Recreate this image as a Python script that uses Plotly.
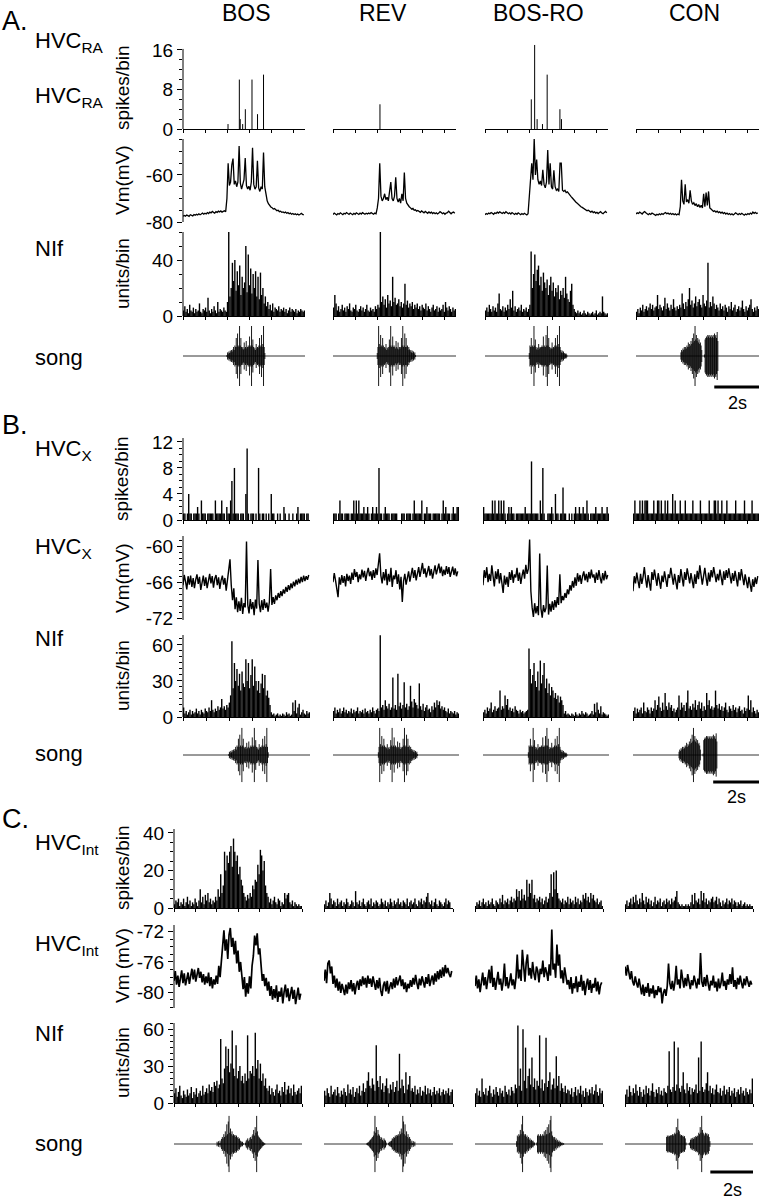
import plotly.graph_objects as go

W, H = 760, 1199
FONT = "Liberation Sans, Arial, sans-serif"
INK = "#000000"

stimuli = ["BOS", "REV", "BOS-RO", "CON"]

# ---------------- Panel A : HVC_RA ----------------
A_DT = 0.055
# sparse spike histograms (time s, spikes/bin)
a_spk_bos_t = [2.03, 2.54, 2.58, 2.69, 2.81, 3.11, 3.36, 3.63]
a_spk_bos_h = [1, 10, 2, 1, 4, 10, 3, 11]
a_spk_rev_t = [2.10]
a_spk_rev_h = [5]
a_spk_ro_t = [2.07, 2.22, 2.33, 2.57, 2.78, 3.35, 3.42]
a_spk_ro_h = [6, 17, 2, 1, 11, 4, 2]
a_spk_con_t = []
a_spk_con_h = []

a_vm_bos = [-77.6,-77.2,-77.5,-77.0,-77.3,-77.6,-76.9,-77.2,-77.4,-76.8,-77.1,-76.7,-77.0,-76.5,-76.9,-76.6,-76.2,-76.7,-76.3,-76.6,
            -76.0,-76.4,-75.8,-76.1,-75.5,-75.9,-76.2,-75.6,-75.9,-75.4,-75.7,-75.3,-75.8,-75.5,-75.2,-75.6,
            -70.0,-55.0,-64.5,-63.0,-55.7,-53.0,-64.0,-62.5,-65.0,-63.0,-47.7,-63.5,-66.0,-64.0,-62.0,-52.8,-64.5,-66.0,-64.8,-66.5,
            -63.0,-48.4,-64.0,-66.0,-65.0,-54.0,-65.5,-67.0,-65.0,-66.0,-50.5,-65.0,
            -69.0,-71.0,-72.2,-73.0,-73.6,-73.9,-74.5,-74.3,-74.9,-75.2,-75.0,-75.6,-75.4,-75.9,-75.7,-76.1,-75.8,-76.3,-76.0,-76.5,
            -76.2,-76.7,-76.4,-76.8,-76.5,-76.9,-76.6,-77.0,-76.7,-76.3,-76.8,-77.0]
a_vm_rev = [-76.8,-76.2,-76.6,-77.0,-76.4,-76.7,-76.1,-76.5,-76.9,-76.3,-76.6,-76.0,-76.4,-76.8,-76.2,-76.5,-76.9,-76.3,-76.7,-76.1,
            -76.5,-76.8,-76.2,-76.6,-76.0,-76.4,-76.7,-76.3,-76.6,-76.2,-76.5,-76.0,-76.4,-76.7,-76.2,-76.5,
            -74.0,-70.0,-55.0,-69.0,-71.0,-70.0,-68.0,-70.5,-69.5,-71.0,-67.0,-63.0,-70.0,-71.0,-69.0,-61.0,-70.0,-71.5,-70.0,-72.0,
            -68.0,-71.0,-59.0,-70.0,-72.0,-73.0,-73.5,-74.0,-74.5,-74.2,-75.0,-74.8,
            -75.4,-75.1,-75.6,-75.9,-75.3,-75.8,-76.1,-75.5,-75.9,-76.3,-75.7,-76.2,-75.8,-76.4,-76.0,-76.5,-76.1,-76.6,-76.2,-75.6,
            -76.0,-76.5,-76.1,-76.7,-76.2,-76.0,-75.4,-76.1,-76.5,-76.0,-75.8,-76.3]
a_vm_ro = [-76.9,-76.4,-76.7,-76.2,-76.5,-76.0,-76.3,-76.7,-76.1,-76.4,-75.8,-76.2,-75.7,-76.0,-76.4,-75.9,-76.3,-75.6,-76.0,-76.5,
           -76.1,-76.6,-76.0,-76.4,-76.8,-76.3,-76.7,-76.1,-76.5,-76.9,-76.4,-76.8,-76.3,-76.6,-77.0,-76.5,
           -70.0,-63.0,-55.0,-62.0,-44.5,-60.0,-53.4,-62.0,-64.0,-62.5,-64.5,-57.8,-64.0,-65.5,-63.0,-49.4,-64.0,-55.0,-65.0,-66.0,
           -58.0,-65.0,-66.5,-66.0,-67.0,-55.0,-55.0,-66.5,-67.0,-66.5,-67.5,-67.2,
           -68.0,-68.5,-69.2,-69.8,-70.5,-71.0,-71.6,-72.0,-72.6,-73.0,-73.5,-73.8,-74.2,-74.5,-74.8,-75.2,-75.0,-75.5,-75.8,-75.4,
           -76.0,-75.7,-76.2,-75.9,-76.4,-76.0,-75.6,-76.2,-76.5,-75.9,-75.5,-76.1]
a_vm_con = [-76.6,-76.1,-76.4,-75.8,-76.2,-76.6,-76.0,-75.6,-76.1,-76.5,-76.9,-76.4,-76.8,-76.2,-76.6,-76.9,-77.2,-76.7,-77.0,-76.5,
            -76.9,-76.4,-76.8,-76.3,-76.0,-76.5,-76.2,-76.7,-76.3,-76.8,-76.4,-76.9,-76.5,-77.0,-76.6,-76.9,
            -73.5,-62.0,-71.0,-72.5,-64.0,-71.5,-70.5,-72.0,-66.5,-71.0,-72.5,-71.8,-73.0,-72.2,-73.5,-72.6,-73.8,-72.9,-74.0,-68.0,
            -73.5,-67.5,-73.0,-67.0,-74.0,-74.5,-75.0,-75.5,-75.2,-75.8,-75.4,-76.0,
            -75.7,-76.2,-75.8,-76.4,-76.0,-76.6,-76.2,-76.8,-76.4,-76.9,-76.5,-77.0,-76.6,-76.1,-76.5,-76.9,-76.4,-76.8,-76.3,-76.7,
            -77.1,-76.6,-76.9,-76.4,-76.8,-76.2,-76.6,-75.8,-76.3,-75.9,-76.4,-76.1]

a_nif_bos = [4,7,3,5,2,8,4,3,6,2,5,3,4,9,3,2,5,4,6,3,13,4,2,5,3,7,4,2,10,3,5,4,3,6,4,3,
             10,61,14,20,38,25,40,18,32,22,36,15,28,20,24,50,17,44,22,34,16,30,20,32,14,28,12,31,15,20,9,14,
             7,10,5,8,4,9,3,6,5,4,7,3,5,4,6,3,5,2,4,6,3,5,4,3,5,2,4,3,5,4,3,4]
a_nif_rev = [6,15,9,4,7,3,5,8,4,6,3,7,5,9,4,3,6,5,8,4,3,5,7,4,6,3,5,8,4,3,6,4,5,3,7,5,
             8,6,60,10,14,8,12,6,15,9,11,7,28,10,13,8,9,12,7,10,6,9,23,8,11,6,9,7,10,5,8,6,
             9,5,7,4,8,6,5,9,4,7,5,3,6,8,4,5,7,3,6,4,5,8,3,10,6,4,7,5,3,6,4,5]
a_nif_ro = [4,6,3,8,5,3,7,4,6,3,9,16,5,4,7,3,6,4,8,5,12,6,18,4,7,3,5,6,4,8,3,5,4,6,3,5,
            8,46,20,30,44,25,33,36,22,28,18,31,24,20,26,15,22,28,18,24,14,20,17,22,12,18,15,20,13,28,16,12,
            10,18,23,8,5,3,2,4,2,3,1,2,4,2,1,3,2,1,2,3,1,2,4,1,2,3,2,14,3,2,1,2]
a_nif_con = [3,5,2,6,4,8,3,5,7,4,6,9,5,8,4,6,7,15,5,8,6,4,7,13,5,9,6,4,8,5,12,6,4,7,5,8,
             6,16,9,5,10,7,12,20,8,11,6,9,14,7,10,12,8,6,15,9,7,11,38,6,10,7,14,9,5,8,6,4,
             9,5,7,4,8,6,3,7,5,10,4,6,8,3,5,7,4,6,11,5,3,7,4,6,8,12,5,3,6,4,7,5]

# song amplitude envelopes (panels A and B use the same stimuli)
SONG_AB_T0 = 1.95
SONG_AB_DT = 0.03
song_bos = [0.0,0.03,0.12,0.08,0.15,0.1,0.18,0.12,0.2,0.15,0.22,0.3,0.2,0.35,0.3,0.6,0.3,0.75,0.35,0.3,
            1.0,0.35,0.6,0.3,0.25,0.3,0.22,0.45,0.25,0.3,0.5,0.25,0.3,0.35,0.3,0.65,0.35,0.3,1.0,0.35,
            0.55,0.3,0.22,0.28,0.2,0.4,0.25,0.3,0.28,0.35,0.6,0.3,0.35,0.7,0.3,0.4,1.0,0.3,0.1,0.0]
song_rev = [0.0,0.1,0.3,1.0,0.4,0.3,0.7,0.35,0.3,0.6,0.35,0.28,0.3,0.25,0.4,0.2,0.28,0.22,0.3,0.55,
            0.35,1.0,0.3,0.35,0.65,0.3,0.35,0.3,0.25,0.5,0.3,0.25,0.45,0.22,0.3,0.25,0.3,0.6,0.35,1.0,
            0.3,0.35,0.75,0.3,0.6,0.3,0.35,0.2,0.3,0.22,0.15,0.2,0.12,0.18,0.1,0.15,0.08,0.12,0.03,0.0]
song_ro = [0.0,0.1,0.35,0.3,0.6,0.3,0.35,0.3,1.0,0.35,0.55,0.3,0.22,0.28,0.2,0.4,0.25,0.3,0.28,0.3,
           0.35,0.3,0.65,0.3,0.35,0.3,0.7,0.35,1.0,0.35,0.6,0.3,0.22,0.28,0.25,0.45,0.25,0.3,0.28,0.35,
           0.6,0.3,0.35,0.7,0.3,0.4,1.0,0.3,0.2,0.12,0.18,0.1,0.15,0.08,0.1,0.06,0.08,0.04,0.0,0.0]
song_con = [0.0,0.0,0.12,0.2,0.15,0.25,0.2,0.3,0.22,0.3,0.25,0.35,0.3,0.45,0.3,0.4,0.35,0.5,0.4,0.6,
            0.45,0.75,0.5,1.0,0.55,0.7,0.5,0.6,0.45,0.55,0.4,0.45,0.35,0.2,0.0,0.0,0.0,0.05,0.55,0.6,
            0.65,0.6,0.7,0.65,0.7,0.6,0.65,0.7,0.6,0.65,0.7,0.6,0.75,0.65,0.7,0.6,0.8,0.5,0.0,0.0]

# ---------------- Panel B : HVC_X ----------------
B_DT = 0.055
b_spk_bos = [1,1,0,1,4,1,1,0,1,1,1,2,1,0,3,1,1,1,0,1,1,1,1,1,0,3,1,1,1,1,3,1,1,0,2,1,
             1,3,6,1,8,1,1,1,0,1,1,1,0,4,11,1,0,1,1,1,0,1,0,8,1,0,1,1,0,1,0,1,
             0,4,1,1,0,0,1,0,1,0,0,2,1,0,0,1,0,0,1,0,0,1,2,0,1,1,1,1,0,1,1,0]
b_spk_rev = [1,1,1,0,1,3,1,1,0,1,1,1,1,0,1,1,3,1,3,1,3,1,1,1,2,1,1,2,1,0,1,2,1,1,2,1,
             8,1,1,0,1,2,1,1,1,0,1,1,1,1,1,0,0,0,1,1,1,0,1,1,1,1,0,1,3,1,1,1,
             1,1,3,0,1,1,2,1,1,1,0,1,1,1,1,1,1,0,1,3,1,2,1,1,1,0,1,2,1,1,2,2]
b_spk_ro = [2,1,1,1,1,1,1,3,1,3,1,1,3,1,3,1,3,1,0,1,2,1,2,1,1,0,1,1,1,1,1,1,1,2,1,1,
            1,1,9,1,1,1,1,1,0,3,1,8,1,0,0,1,1,1,2,1,0,4,1,1,0,1,1,5,1,1,0,0,
            1,0,1,0,1,2,1,1,2,1,1,2,1,1,3,1,0,1,1,1,1,2,1,1,1,1,2,1,1,1,2,1]
b_spk_con = [1,3,1,1,1,3,1,3,1,3,3,3,1,1,1,1,3,1,1,3,3,1,3,1,1,3,1,3,1,1,1,4,1,3,1,1,
             1,3,1,1,1,3,1,1,1,1,1,3,1,1,1,1,1,3,1,1,1,1,1,1,3,1,1,1,3,3,1,3,
             1,1,3,1,1,1,3,1,1,1,1,1,1,3,1,1,1,1,1,1,3,1,1,1,1,1,3,1,1,1,1,1]

b_vm_bos = [-66.5,-64.8,-65.9,-67.2,-65.0,-66.4,-64.9,-66.8,-65.3,-67.0,-65.6,-64.7,-66.3,-65.1,-67.3,-65.8,-64.9,-66.6,-65.2,-67.0,
            -65.5,-64.6,-66.2,-65.0,-66.9,-65.4,-64.8,-66.5,-65.2,-67.1,-65.7,-64.9,-66.4,-65.3,-67.4,-65.9,
            -64.5,-62.2,-66.5,-69.0,-67.0,-70.5,-68.5,-71.0,-69.2,-70.8,-68.6,-71.3,-69.5,-70.2,-59.2,-69.8,-71.2,-68.8,-70.5,-69.3,
            -71.5,-68.9,-70.4,-62.3,-69.6,-71.0,-69.0,-70.6,-68.8,-70.3,-69.4,-70.9,
            -69.3,-63.8,-69.8,-68.5,-69.6,-68.2,-69.0,-67.8,-68.6,-67.5,-68.3,-67.2,-67.9,-66.8,-67.6,-66.5,-67.3,-66.2,-67.0,-65.9,
            -66.7,-65.6,-66.4,-65.4,-66.2,-65.1,-66.0,-64.9,-65.8,-65.0,-65.6,-64.8]
b_vm_rev = [-66.0,-64.5,-65.7,-66.8,-68.5,-65.2,-66.4,-64.8,-66.1,-65.0,-66.7,-64.6,-65.8,-64.9,-66.3,-64.4,-65.6,-63.8,-65.1,-64.3,
            -66.0,-64.7,-65.5,-63.9,-65.2,-64.1,-65.8,-64.5,-63.6,-65.0,-64.2,-65.6,-64.0,-65.3,-63.7,-64.8,
            -63.0,-61.2,-64.9,-66.2,-64.3,-65.7,-63.8,-66.5,-64.6,-65.9,-63.6,-66.8,-64.9,-65.5,-64.0,-66.3,-64.7,-67.2,-65.1,-69.3,
            -65.8,-64.6,-66.4,-65.0,-64.2,-65.9,-64.5,-63.6,-65.3,-64.0,-65.7,-64.4,
            -63.5,-65.1,-64.0,-62.8,-64.6,-63.7,-65.2,-64.1,-63.3,-64.9,-63.8,-65.4,-64.3,-63.2,-64.7,-63.6,-62.9,-64.5,-63.4,-65.0,
            -63.9,-64.8,-63.3,-64.6,-63.5,-65.1,-64.0,-63.4,-64.8,-63.7,-65.0,-64.2]
b_vm_ro = [-66.5,-64.0,-65.3,-63.5,-66.0,-64.6,-65.8,-63.2,-65.0,-66.7,-64.2,-65.5,-63.8,-66.2,-64.5,-65.9,-67.8,-64.9,-66.4,-65.1,
           -66.8,-64.3,-65.6,-64.0,-66.1,-64.7,-65.2,-63.6,-65.8,-64.4,-66.3,-64.9,-63.9,-65.4,-63.1,-64.6,
           -63.8,-58.9,-67.5,-70.2,-71.8,-69.5,-71.2,-70.0,-71.5,-61.2,-70.4,-71.9,-69.8,-71.0,-70.3,-63.2,-71.4,-69.6,-70.9,-69.2,
           -70.6,-69.0,-70.2,-68.5,-69.8,-64.7,-69.5,-68.3,-69.0,-67.8,-68.6,-67.2,
           -68.0,-66.5,-67.4,-65.8,-66.9,-65.2,-66.6,-64.5,-65.9,-64.8,-66.3,-65.0,-64.2,-65.7,-64.6,-66.0,-64.3,-65.4,-63.9,-65.2,
           -64.7,-66.1,-64.4,-65.6,-64.0,-65.3,-66.2,-64.5,-65.7,-64.1,-65.5,-64.8]
b_vm_con = [-67.5,-65.0,-66.2,-64.4,-65.8,-67.0,-64.6,-66.3,-65.1,-63.5,-65.4,-66.9,-64.8,-65.9,-67.4,-64.3,-65.6,-63.9,-65.2,-66.6,
            -64.5,-65.8,-67.1,-64.9,-66.0,-64.2,-65.5,-66.8,-64.7,-65.3,-63.6,-65.0,-66.4,-64.6,-65.7,-67.2,
            -64.8,-66.1,-63.8,-65.4,-66.7,-64.3,-65.6,-63.7,-65.0,-66.2,-64.5,-65.8,-67.0,-64.7,-66.3,-64.1,-65.5,-63.2,-64.9,-66.4,
            -65.0,-63.6,-65.3,-66.6,-64.4,-65.9,-64.0,-65.2,-63.5,-64.8,-66.0,-64.6,
            -65.7,-63.9,-65.1,-66.5,-64.2,-65.6,-64.0,-65.3,-63.7,-64.9,-66.2,-64.5,-65.8,-64.1,-65.4,-66.7,-64.3,-65.7,-63.8,-65.2,
            -66.5,-64.7,-65.9,-67.0,-65.1,-66.4,-67.6,-65.5,-66.8,-65.2,-66.3,-65.0]

b_nif_bos = [8,3,5,2,4,6,2,5,3,4,7,3,5,2,6,4,3,7,5,4,8,5,14,6,4,7,5,9,6,8,15,7,9,6,10,8,
             12,18,63,24,45,30,40,26,36,22,38,28,25,48,30,45,24,35,48,26,42,30,22,30,20,28,36,24,35,18,22,16,
             10,4,2,3,1,2,3,1,2,1,3,2,1,4,2,3,1,2,12,5,14,3,8,11,2,4,6,3,2,5,3,4]
b_nif_rev = [5,8,3,6,4,7,3,5,8,4,6,3,5,4,7,3,6,4,5,8,3,5,4,6,3,7,4,5,3,6,4,8,5,3,6,7,
             5,68,8,10,6,14,9,7,11,6,8,33,7,10,6,36,9,12,7,10,29,8,11,6,9,26,13,8,15,12,10,7,
             28,9,6,11,5,8,10,6,7,4,9,6,12,8,14,10,13,7,9,6,8,5,4,7,3,5,4,3,5,2,4,3]
b_nif_ro = [4,6,3,8,5,7,12,4,6,9,5,7,8,22,6,9,7,18,10,15,6,8,5,7,4,9,6,5,3,6,4,5,3,4,5,6,
            57,40,28,35,45,30,25,38,22,47,28,35,45,24,32,20,28,18,25,22,16,20,15,18,12,17,14,10,3,5,2,3,
            2,1,3,2,1,4,2,1,3,2,5,3,2,4,3,1,2,3,5,2,11,4,12,6,3,9,2,4,3,2,1,2]
b_nif_con = [5,8,3,7,4,6,8,3,12,5,4,8,6,3,8,5,7,14,6,10,17,8,5,12,6,20,9,6,12,8,10,5,7,4,6,8,
             18,6,12,8,10,5,12,22,7,9,6,11,8,14,6,10,13,7,12,5,9,6,20,10,14,7,9,6,8,22,10,7,
             11,6,9,5,8,12,6,4,9,7,5,10,6,8,4,7,9,5,6,3,8,5,7,18,6,14,4,8,5,3,6,4]

# ---------------- Panel C : HVC_Int ----------------
C_DT = 0.06
c_spk_bos = [2,4,3,5,1,3,2,5,1,3,6,2,4,1,3,2,5,3,1,4,10,3,6,2,7,4,8,3,5,2,4,3,6,
             4,10,6,18,8,12,30,20,28,24,30,33,22,37,30,25,28,18,22,15,12,8,6,4,7,5,8,6,12,10,15,14,23,18,31,28,20,25,12,8,
             6,3,5,2,4,6,3,2,5,4,1,3,2,8,5,7,8,3,2,4,1,3,2,1,2,1,1]
c_spk_rev = [2,4,1,3,8,5,2,4,3,1,5,2,3,4,1,3,2,5,3,1,2,4,3,1,9,3,2,4,1,3,5,2,1,3,4,2,
             5,1,3,2,4,3,1,2,5,3,2,4,1,3,2,5,3,1,4,2,3,5,2,3,1,4,3,2,5,1,3,4,
             2,3,5,2,1,4,3,5,2,4,3,6,8,3,2,4,1,3,5,2,1,4,3,2,1,3,5,2,4,3]
c_spk_ro = [1,3,2,4,1,3,5,2,3,1,4,2,3,5,2,1,4,3,2,5,3,7,2,4,3,5,2,4,6,3,5,4,10,6,9,4,
            10,5,7,4,15,6,13,8,15,5,7,3,5,4,6,3,5,2,4,6,3,5,8,18,6,19,10,20,8,5,4,3,
            5,2,4,3,6,2,5,3,4,2,6,3,5,2,4,3,7,5,8,4,6,3,8,5,7,4,3,5,2,3,4,1]
c_spk_con = [2,4,1,3,5,2,6,3,7,4,2,5,3,8,4,2,6,3,5,2,4,1,3,6,2,4,3,5,1,3,4,2,5,3,4,2,
             5,3,4,6,9,3,2,1,2,1,1,2,1,2,1,3,7,2,8,4,3,5,2,9,4,8,3,5,2,4,3,5,
             6,3,4,6,2,5,3,1,4,2,3,5,2,4,3,5,2,4,3,1,3,2,4,1,2,3,1,2,1,2,1,1]

c_vm_bos = [-78.5,-77.2,-79.0,-77.8,-79.3,-78.0,-77.1,-78.8,-77.5,-79.1,-78.2,-77.4,-78.9,-77.6,-76.9,-78.3,-77.0,-78.6,-77.4,-76.8,
            -78.1,-77.3,-78.7,-77.6,-79.0,-77.9,-78.8,-77.4,-79.2,-78.0,-79.5,-78.3,-79.0,
            -77.8,-78.9,-76.5,-78.0,-75.8,-74.2,-71.8,-74.5,-73.0,-75.6,-72.4,-71.5,-74.0,-72.8,-75.0,-73.2,-76.2,-74.5,-77.3,-76.0,
            -78.4,-79.6,-78.0,-80.6,-78.8,-80.2,-77.9,-79.5,-76.5,-75.2,-72.5,-73.8,-72.2,-75.0,-74.2,-77.0,-78.5,-77.6,-79.2,-78.1,
            -79.8,-78.6,-80.5,-79.2,-81.0,-79.6,-80.8,-79.1,-81.3,-79.9,-80.6,-79.4,-81.5,-80.0,-79.0,-80.7,-79.5,-81.2,-80.1,-79.3,
            -80.9,-79.7,-81.6,-80.3,-79.4,-81.0,-80.2]
c_vm_rev = [-78.5,-77.0,-78.8,-76.2,-75.8,-77.5,-76.6,-78.9,-77.8,-79.4,-78.2,-79.8,-78.6,-80.1,-78.9,-79.5,-80.4,-79.0,-80.2,-78.7,
            -79.6,-78.4,-79.9,-78.8,-80.3,-79.1,-78.5,-79.7,-78.3,-79.2,-77.9,-79.0,-78.1,-79.4,-77.8,-78.9,
            -78.2,-79.3,-77.9,-78.8,-79.7,-78.4,-79.5,-78.1,-79.8,-80.5,-79.1,-78.6,-79.9,-78.5,-80.2,-79.3,-78.7,-79.6,-78.2,-79.4,
            -78.0,-79.1,-78.5,-77.8,-79.2,-78.3,-79.6,-78.7,-80.0,-78.9,-79.5,-78.4,
            -79.3,-78.1,-79.0,-77.7,-78.8,-79.6,-78.2,-79.1,-77.9,-78.7,-79.4,-78.0,-78.9,-77.6,-79.2,-78.4,-77.8,-79.0,-77.5,-78.6,
            -77.2,-78.3,-77.0,-78.1,-76.7,-77.9,-76.4,-77.5,-76.8,-77.6,-78.0,-77.2]
c_vm_ro = [-79.2,-77.8,-79.5,-78.3,-80.0,-78.6,-77.4,-79.1,-78.0,-79.6,-78.4,-77.0,-78.8,-76.5,-79.3,-78.1,-79.7,-78.5,-77.3,-79.0,
           -78.2,-79.8,-78.6,-76.2,-79.2,-78.0,-79.5,-78.7,-77.5,-79.1,-78.3,-79.6,-78.1,
           -75.0,-78.2,-77.0,-78.5,-74.4,-77.3,-78.6,-76.1,-75.0,-77.8,-76.8,-78.2,-76.0,-77.5,-78.4,-76.6,-77.2,-78.7,-76.9,-77.6,
           -75.8,-78.0,-76.7,-77.4,-78.5,-76.3,-77.8,-71.7,-77.0,-76.2,-78.1,-73.7,-76.5,-75.0,-78.2,-77.1,-78.8,-76.7,-78.3,-79.0,
           -78.4,-79.6,-78.0,-80.2,-78.8,-79.5,-77.9,-80.0,-78.6,-79.3,-77.7,-79.8,-78.5,-80.4,-79.0,-78.2,-79.7,-78.4,-80.1,-78.9,
           -79.4,-78.1,-79.9,-78.6,-80.3,-79.1,-78.7]
c_vm_con = [-76.6,-77.8,-76.4,-77.5,-78.3,-77.2,-78.6,-79.1,-77.9,-78.8,-79.4,-78.2,-79.6,-80.3,-79.0,-80.5,-79.3,-80.1,-78.8,-80.6,
            -79.5,-80.2,-79.1,-80.8,-79.7,-80.4,-79.2,-80.0,-79.4,-81.5,-80.1,-79.6,-80.5,-79.2,-76.2,-78.8,
            -79.6,-78.5,-79.8,-78.7,-76.5,-79.0,-78.3,-79.5,-77.0,-78.6,-79.4,-78.1,-79.2,-77.6,-78.8,-79.6,-78.4,-79.1,-77.8,-78.9,
            -79.5,-78.2,-79.0,-74.8,-78.6,-79.3,-78.0,-79.2,-77.7,-78.9,-79.8,-78.5,
            -79.1,-77.8,-79.4,-78.6,-79.9,-78.2,-79.5,-78.8,-77.4,-79.2,-78.5,-79.7,-78.3,-79.0,-77.6,-78.9,-76.7,-79.3,-78.4,-79.6,
            -78.1,-79.0,-77.8,-78.8,-79.5,-78.2,-79.1,-77.9,-78.7,-79.3,-78.5,-79.0]

c_nif_bos = [8,12,5,9,14,6,4,10,7,5,11,6,8,13,4,9,7,12,5,8,10,6,14,7,9,12,8,15,10,13,9,17,14,
             18,12,15,52,20,16,28,46,30,44,25,32,59,28,22,47,20,26,30,18,22,16,24,18,55,20,26,24,30,22,57,28,35,20,32,18,24,14,20,12,
             10,14,7,12,9,6,11,15,8,10,6,13,9,17,7,11,14,8,12,6,15,9,7,10,12,8,14]
c_nif_rev = [10,6,12,8,5,14,7,9,11,6,13,8,5,10,7,12,9,6,15,8,11,7,13,5,9,12,8,14,6,10,16,9,12,18,25,14,
             12,20,15,10,47,18,13,22,11,16,9,14,20,12,8,15,11,17,9,13,18,10,40,12,19,14,8,25,11,15,22,10,
             12,9,14,7,11,8,13,6,10,9,14,7,12,8,11,6,9,13,7,10,8,12,6,9,11,7,10,8,12,6,9,11]
c_nif_ro = [8,12,6,10,5,20,9,7,12,6,10,14,8,5,11,7,13,9,6,12,8,10,5,14,9,7,11,6,13,10,8,15,12,
            63,14,28,10,60,18,45,12,22,28,15,37,13,20,11,18,14,55,12,19,10,16,53,13,18,25,11,15,20,12,38,14,22,10,16,12,9,14,8,11,
            10,7,12,5,9,13,6,11,8,14,7,10,5,12,9,6,11,8,13,7,10,15,9,6,12,8,10]
c_nif_con = [7,11,5,14,9,6,12,8,15,10,6,13,9,5,11,7,14,8,12,6,10,16,9,5,11,8,13,7,10,6,12,9,8,
             14,42,11,9,13,50,10,15,45,12,9,14,25,11,8,16,10,13,7,12,9,11,15,8,37,10,50,13,9,11,16,25,10,14,8,12,7,11,15,9,
             8,12,6,10,14,7,11,9,13,6,10,8,12,5,9,11,7,13,8,10,6,12,9,7,11,8,20]

SONG_C_T0 = 1.95
SONG_C_DT = 0.035
c_song_bos = [0.0,0.0,0.08,0.02,0.1,0.03,0.12,0.05,0.18,0.25,0.2,0.35,0.25,0.45,0.3,0.7,0.35,0.8,1.0,0.4,
              0.55,0.35,0.45,0.3,0.35,0.3,0.32,0.25,0.3,0.22,0.25,0.18,0.2,0.12,0.1,0.06,0.08,0.03,0.0,0.0,
              0.05,0.12,0.15,0.2,0.1,0.15,0.22,0.25,0.18,0.3,0.35,0.5,0.3,0.6,0.4,1.0,0.45,0.3,0.25,0.22,
              0.18,0.15,0.12,0.08,0.06,0.04,0.02,0.0]
c_song_rev = [0.0,0.02,0.04,0.06,0.08,0.12,0.15,0.18,0.22,0.25,0.3,0.45,1.0,0.4,0.6,0.3,0.5,0.35,0.3,0.18,
              0.25,0.22,0.15,0.1,0.2,0.15,0.12,0.05,0.0,0.0,0.03,0.08,0.06,0.1,0.12,0.2,0.18,0.25,0.22,0.3,
              0.25,0.32,0.3,0.35,0.3,0.45,0.35,0.55,0.4,1.0,0.8,0.35,0.7,0.3,0.45,0.25,0.35,0.2,0.25,0.18,
              0.05,0.12,0.03,0.1,0.02,0.08,0.0,0.0]
c_song_ro = [0.1,0.3,0.25,0.35,0.3,0.5,0.35,0.7,1.0,0.45,0.35,0.3,0.35,0.25,0.3,0.2,0.25,0.15,0.2,0.12,
             0.15,0.1,0.12,0.06,0.05,0.0,0.0,0.05,0.3,0.35,0.3,0.28,0.35,0.28,0.3,0.35,0.3,0.45,0.3,0.5,
             0.35,0.6,0.35,0.7,0.4,0.85,1.0,0.45,0.3,0.25,0.2,0.25,0.15,0.2,0.1,0.15,0.08,0.12,0.06,0.08,
             0.04,0.05,0.02,0.03,0.0,0.0,0.0,0.0]
c_song_con = [0.25,0.3,0.25,0.3,0.28,0.3,0.32,0.3,0.35,0.3,0.35,0.4,0.35,0.6,0.4,0.9,0.5,0.45,0.35,0.3,
              0.32,0.28,0.3,0.25,0.28,0.2,0.05,0.0,0.0,0.0,0.02,0.05,0.15,0.2,0.15,0.22,0.18,0.25,0.2,0.28,
              0.25,0.3,0.28,0.4,0.35,0.6,0.4,1.0,0.5,0.4,0.35,0.3,0.4,0.35,0.38,0.3,0.35,0.25,0.1,0.0,
              0.0,0.0,0.0,0.0,0.0,0.0,0.0,0.0]

# ---------------- figure construction ----------------
fig = go.Figure()
lay = {}
shapes = []
annotations = []
counter = [0]


def fx(px):
    return px / W


def fy(py):
    return 1 - py / H


def new_axes(xpx, ypx, xr, yr):
    counter[0] += 1
    n = counter[0]
    sx = "" if n == 1 else str(n)
    lay["xaxis" + sx] = dict(domain=[fx(xpx[0]), fx(xpx[1])], range=xr, anchor="y" + sx,
                             visible=False, fixedrange=True, showgrid=False, zeroline=False)
    lay["yaxis" + sx] = dict(domain=[fy(ypx[1]), fy(ypx[0])], range=yr, anchor="x" + sx,
                             visible=False, fixedrange=True, showgrid=False, zeroline=False)
    return sx


def style_xaxis(sx, ticks):
    lay["xaxis" + sx].update(visible=True, showline=True, linecolor=INK, linewidth=1,
                             ticks="outside", ticklen=3, tickwidth=1, tickcolor=INK,
                             tickmode="array", tickvals=ticks, showticklabels=False)


def style_yaxis(sx, major, minor, ytop, ybot):
    lay["yaxis" + sx].update(visible=True, showline=False, ticks="outside", ticklen=5, tickwidth=1,
                             tickcolor=INK, tickmode="array", tickvals=major,
                             ticktext=[str(v) for v in major],
                             tickfont=dict(family=FONT, size=19, color=INK),
                             minor=dict(tickmode="array", tickvals=minor, ticks="outside",
                                        ticklen=3, tickwidth=1, tickcolor=INK))
    shapes.append(dict(type="line", xref="x" + sx + " domain", yref="y" + sx,
                       x0=0, x1=0, y0=ybot, y1=ytop, line=dict(color=INK, width=1)))


def hist_trace(sx, t, h, width=1.4):
    xs, ys = [], []
    for ti, hi in zip(t, h):
        xs += [ti, ti, None]
        ys += [0, hi, None]
    fig.add_trace(go.Scatter(x=xs, y=ys, mode="lines", line=dict(color=INK, width=width),
                             xaxis="x" + sx, yaxis="y" + sx, hoverinfo="skip", showlegend=False))


def line_trace(sx, t, v, width=1.3):
    fig.add_trace(go.Scatter(x=t, y=v, mode="lines", line=dict(color=INK, width=width),
                             xaxis="x" + sx, yaxis="y" + sx, hoverinfo="skip", showlegend=False))


def song_trace(sx, t0, dt, amp, xmax):
    fig.add_trace(go.Scatter(x=[0, xmax], y=[0, 0], mode="lines", line=dict(color=INK, width=0.8),
                             xaxis="x" + sx, yaxis="y" + sx, hoverinfo="skip", showlegend=False))
    xs, ys = [], []
    for k, a in enumerate(amp):
        if a <= 0:
            continue
        t = t0 + k * dt
        xs += [t, t, None]
        ys += [-a, a, None]
    fig.add_trace(go.Scatter(x=xs, y=ys, mode="lines", line=dict(color=INK, width=0.9),
                             xaxis="x" + sx, yaxis="y" + sx, hoverinfo="skip", showlegend=False))


def text(x, y, s, size, xanchor="left", yanchor="middle", angle=0):
    annotations.append(dict(x=fx(x), y=fy(y), xref="paper", yref="paper", text=s, showarrow=False,
                            xanchor=xanchor, yanchor=yanchor, textangle=angle,
                            font=dict(family=FONT, size=size, color=INK)))


def draw_panel(cols, xr, xticks, dt, rows, spk, vm, nif, songs, song_t0, song_dt, sparse=False, vm_width=1.3):
    for ci, xpx in enumerate(cols):
        # spikes/bin
        r = rows["spk"]
        sx = new_axes(xpx, r["px"], xr, r["range"])
        style_xaxis(sx, xticks)
        if ci == 0:
            style_yaxis(sx, r["major"], r["minor"], r["top"], 0)
        if sparse:
            hist_trace(sx, spk[ci][0], spk[ci][1], width=1.0)
        else:
            hist_trace(sx, [(i + 0.5) * dt for i in range(len(spk[ci]))], spk[ci])
        # Vm
        r = rows["vm"]
        sx = new_axes(xpx, r["px"], xr, r["range"])
        if ci == 0:
            style_yaxis(sx, r["major"], r["minor"], r["range"][1], r["range"][0])
        line_trace(sx, [i * dt for i in range(len(vm[ci]))], vm[ci], width=vm_width)
        # NIf
        r = rows["nif"]
        sx = new_axes(xpx, r["px"], xr, r["range"])
        style_xaxis(sx, xticks)
        if ci == 0:
            style_yaxis(sx, r["major"], r["minor"], r["range"][1], 0)
        hist_trace(sx, [(i + 0.5) * dt for i in range(len(nif[ci]))], nif[ci])
        # song
        r = rows["song"]
        sx = new_axes(xpx, r["px"], xr, r["range"])
        song_trace(sx, song_t0, song_dt, songs[ci], xr[1])
        if ci == len(cols) - 1:
            shapes.append(dict(type="line", xref="x" + sx, yref="paper", x0=xr[1] - 2, x1=xr[1],
                               y0=fy(r["bar"]), y1=fy(r["bar"]), line=dict(color=INK, width=3)))


# Panel A
draw_panel(
    cols=[(183, 305), (333, 456), (485, 608), (636, 759)], xr=[0, 5.5], xticks=[0, 1, 2, 3, 4, 5], dt=A_DT,
    rows=dict(spk=dict(px=(43, 129), range=[0, 17.4], top=16.2, major=[0, 8, 16], minor=[2, 4, 6, 10, 12, 14]),
              vm=dict(px=(139, 222), range=[-80, -44.7], major=[-60, -80], minor=[-75, -70, -65, -55, -50, -45]),
              nif=dict(px=(232, 316), range=[0, 60], major=[0, 40], minor=[10, 20, 30, 50, 60]),
              song=dict(px=(320, 392), range=[-1.2, 1.2], bar=387)),
    spk=[(a_spk_bos_t, a_spk_bos_h), (a_spk_rev_t, a_spk_rev_h), (a_spk_ro_t, a_spk_ro_h), (a_spk_con_t, a_spk_con_h)],
    vm=[a_vm_bos, a_vm_rev, a_vm_ro, a_vm_con],
    nif=[a_nif_bos, a_nif_rev, a_nif_ro, a_nif_con],
    songs=[song_bos, song_rev, song_ro, song_con], song_t0=SONG_AB_T0, song_dt=SONG_AB_DT, sparse=True)

# Panel B
draw_panel(
    cols=[(183, 310), (333, 459), (483, 609), (633, 759)], xr=[0, 5.5], xticks=[0, 1, 2, 3, 4, 5], dt=B_DT,
    rows=dict(spk=dict(px=(438, 520), range=[0, 12.6], top=12.6, major=[0, 4, 8, 12], minor=[1, 2, 3, 5, 6, 7, 9, 10, 11]),
              vm=dict(px=(536, 620), range=[-72.3, -58.3], major=[-60, -66, -72],
                      minor=[-59, -61, -62, -63, -64, -65, -67, -68, -69, -70, -71]),
              nif=dict(px=(635, 717), range=[0, 68.3], major=[0, 30, 60], minor=[5, 10, 15, 20, 25, 35, 40, 45, 50, 55, 65]),
              song=dict(px=(719, 791), range=[-1.33, 1.33], bar=782)),
    spk=[b_spk_bos, b_spk_rev, b_spk_ro, b_spk_con],
    vm=[b_vm_bos, b_vm_rev, b_vm_ro, b_vm_con],
    nif=[b_nif_bos, b_nif_rev, b_nif_ro, b_nif_con],
    songs=[song_bos, song_rev, song_ro, song_con], song_t0=SONG_AB_T0, song_dt=SONG_AB_DT, vm_width=1.4)

# Panel C
draw_panel(
    cols=[(174, 302), (324, 453), (475, 603), (625, 753)], xr=[0, 6.0], xticks=[0, 1, 2, 3, 4, 5, 6], dt=C_DT,
    rows=dict(spk=dict(px=(829, 908), range=[0, 42.1], top=42.1, major=[0, 20, 40], minor=[5, 10, 15, 25, 30, 35]),
              vm=dict(px=(925, 1008), range=[-82.1, -71.1], major=[-72, -76, -80],
                      minor=[-73, -74, -75, -77, -78, -79, -81, -82]),
              nif=dict(px=(1023, 1103), range=[0, 65], major=[0, 30, 60], minor=[5, 10, 15, 20, 25, 35, 40, 45, 50, 55, 65]),
              song=dict(px=(1110, 1178), range=[-1.21, 1.21], bar=1172)),
    spk=[c_spk_bos, c_spk_rev, c_spk_ro, c_spk_con],
    vm=[c_vm_bos, c_vm_rev, c_vm_ro, c_vm_con],
    nif=[c_nif_bos, c_nif_rev, c_nif_ro, c_nif_con],
    songs=[c_song_bos, c_song_rev, c_song_ro, c_song_con], song_t0=SONG_C_T0, song_dt=SONG_C_DT, vm_width=1.7)

# ---------------- text ----------------
for name, x in zip(stimuli, [246, 383, 538, 694]):
    text(x, 13, name, 23, xanchor="center")

text(0, 21, "A.", 27)
text(0, 425, "B.", 27)
text(0, 819, "C.", 27)

# row labels
text(33, 42, "HVC<sub>RA</sub>", 22)
text(33, 97, "HVC<sub>RA</sub>", 22)
text(33, 249, "NIf", 22)
text(33, 357, "song", 22)
text(33, 450, "HVC<sub>X</sub>", 22)
text(33, 548, "HVC<sub>X</sub>", 22)
text(33, 638, "NIf", 22)
text(33, 753, "song", 22)
text(33, 844, "HVC<sub>Int</sub>", 22)
text(33, 945, "HVC<sub>Int</sub>", 22)
text(33, 1033, "NIf", 22)
text(33, 1143, "song", 22)

# axis titles
for y, s in [(88, "spikes/bin"), (180, "Vm(mV)"), (274, "units/bin"),
             (479, "spikes/bin"), (578, "Vm(mV)"), (676, "units/bin"),
             (868, "spikes/bin"), (966, "Vm (mV)"), (1063, "units/bin")]:
    text(122, y, s, 19, xanchor="center", angle=-90)

# scale bar labels
text(737, 403, "2s", 18, xanchor="center")
text(736, 797, "2s", 18, xanchor="center")
text(732, 1190, "2s", 18, xanchor="center")

fig.update_layout(width=W, height=H, margin=dict(l=0, r=0, t=0, b=0, pad=0, autoexpand=False),
                  paper_bgcolor="white", plot_bgcolor="white", showlegend=False,
                  shapes=shapes, annotations=annotations, **lay)
fig.write_html("out.html", config={"displayModeBar": False},
               post_script="document.body.style.margin='0';document.body.style.overflow='hidden';")
